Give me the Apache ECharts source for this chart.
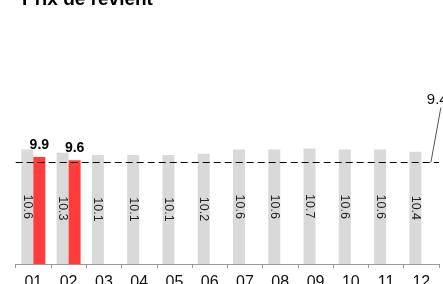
<!DOCTYPE html>
<html>
<head>
<meta charset="utf-8">
<script src="https://cdn.jsdelivr.net/npm/echarts@6/dist/echarts.min.js"></script>
<style>
  html, body { margin: 0; padding: 0; background: #fff; }
  #chart { width: 443px; height: 284px; }
</style>
</head>
<body>
<div id="chart"></div>
<script>
// mois
const months = ['01', '02', '03', '04', '05', '06', '07', '08', '09', '10', '11', '12'];
// prix de revient N-1 (barres grises)
const prevYear = [10.6, 10.3, 10.1, 10.1, 10.1, 10.2, 10.6, 10.6, 10.7, 10.6, 10.6, 10.4];
// prix de revient N (barres rouges)
const currYear = [9.9, 9.6, '-', '-', '-', '-', '-', '-', '-', '-', '-', '-'];
// objectif
const target = 9.4;

const myChart = echarts.init(document.getElementById('chart'));
const font = 'Liberation Sans, Arial, sans-serif';

const chartOption = {
  animation: false,
  grid: { left: 15.7, right: 4, top: 134.4, bottom: 20, containLabel: false, outerBoundsMode: 'none' },
  xAxis: {
    type: 'category',
    data: months,
    axisLine: { lineStyle: { color: '#999', width: 1 } },
    axisTick: { show: true, length: 4, lineStyle: { color: '#999' } },
    axisLabel: { color: '#111', fontSize: 16, fontFamily: font, margin: 11 }
  },
  yAxis: {
    type: 'value',
    min: 0,
    max: 12,
    show: false,
    splitLine: { show: false }
  },
  series: [
    {
      name: 'N-1',
      type: 'bar',
      data: prevYear,
      barWidth: 12,
      barGap: '0%',
      itemStyle: { color: '#d9d9d9' },
      label: {
        show: true,
        position: 'inside',
        rotate: -90,
        color: '#222',
        fontSize: 12.5,
        fontFamily: font,
        formatter: p => p.value.toFixed(1)
      },
      markLine: {
        silent: true,
        symbol: 'none',
        label: { show: false },
        lineStyle: { color: '#000', type: [7, 4], width: 1 },
        data: [{ yAxis: target }]
      }
    },
    {
      name: 'N',
      type: 'bar',
      data: currYear,
      barWidth: 12,
      itemStyle: { color: '#ff3b3b' },
      label: {
        show: true,
        position: 'top',
        distance: 5,
        color: '#000',
        fontWeight: 'bold',
        fontSize: 14,
        fontFamily: font,
        formatter: p => p.value.toFixed(1)
      }
    }
  ]
};
myChart.setOption(chartOption);

// ligne de rappel vers l'étiquette de l'objectif
const p = myChart.convertToPixel({ xAxisIndex: 0, yAxisIndex: 0 }, [months.length - 1, target]);
const x0 = p[0] + 9.5;
const y0 = p[1];
myChart.setOption({
  graphic: [
    {
      type: 'text',
      left: 22,
      top: -10,
      style: { text: 'Prix de revient', font: 'bold 19px ' + font, fill: '#000' }
    },
    {
      type: 'line',
      shape: { x1: x0, y1: y0, x2: x0 + 10, y2: y0 - 55 },
      style: { stroke: '#555', lineWidth: 1 }
    },
    {
      type: 'text',
      x: x0 - 4,
      y: y0 - 70,
      style: { text: target.toFixed(1), font: '15px ' + font, fill: '#111' }
    }
  ]
});
</script>
</body>
</html>
